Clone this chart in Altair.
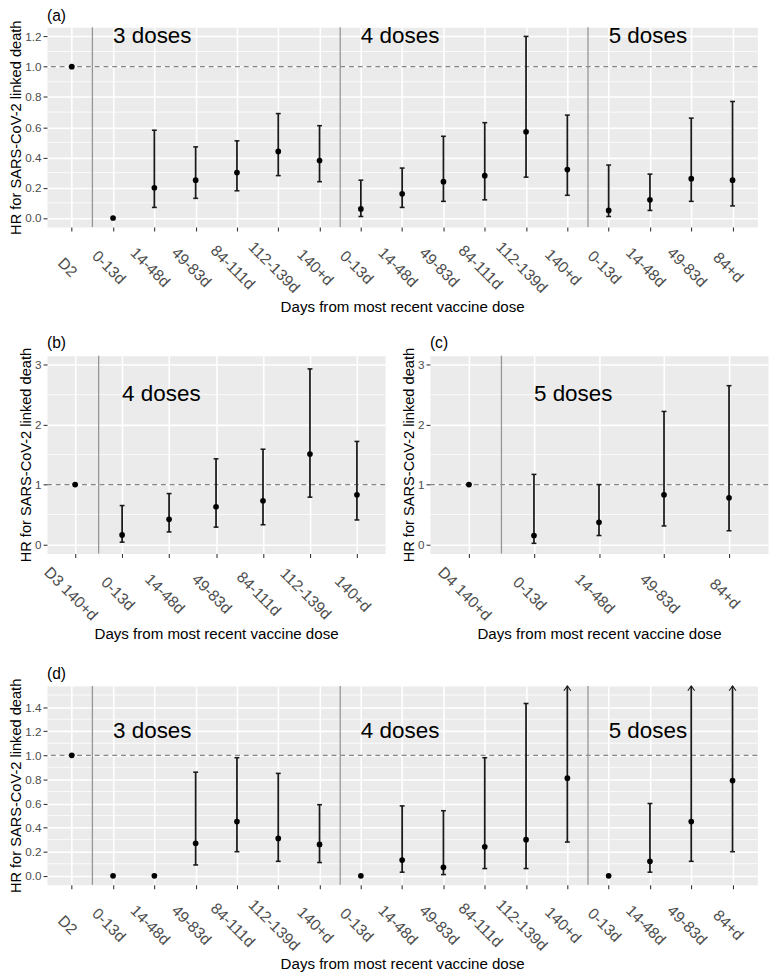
import altair as alt
import pandas as pd

FONT = "Liberation Sans"

# ---------------- data ----------------
full_labels = ["D2", "0-13d", "14-48d", "49-83d", "84-111d", "112-139d", "140+d",
               "0-13d", "14-48d", "49-83d", "84-111d", "112-139d", "140+d",
               "0-13d", "14-48d", "49-83d", "84+d"]

# panel (a)
a_hr = [1.0, 0.0, 0.20, 0.25, 0.30, 0.44, 0.38,
        0.06, 0.16, 0.24, 0.28, 0.57, 0.32,
        0.05, 0.12, 0.26, 0.25]
a_lo = [1.0, None, 0.07, 0.13, 0.18, 0.28, 0.24,
        0.01, 0.07, 0.11, 0.12, 0.27, 0.15,
        0.01, 0.05, 0.11, 0.08]
a_hi = [1.0, None, 0.58, 0.47, 0.51, 0.69, 0.61,
        0.25, 0.33, 0.54, 0.63, 1.20, 0.68,
        0.35, 0.29, 0.66, 0.77]
a_open = [False] * 17

# panel (b)
b_labels = ["D3 140+d", "0-13d", "14-48d", "49-83d", "84-111d", "112-139d", "140+d"]
b_hr = [1.0, 0.16, 0.42, 0.63, 0.73, 1.51, 0.83]
b_lo = [1.0, 0.04, 0.21, 0.29, 0.33, 0.79, 0.41]
b_hi = [1.0, 0.65, 0.85, 1.43, 1.59, 2.93, 1.72]
b_open = [False] * 7

# panel (c)
c_labels = ["D4 140+d", "0-13d", "14-48d", "49-83d", "84+d"]
c_hr = [1.0, 0.15, 0.37, 0.83, 0.78]
c_lo = [1.0, 0.02, 0.15, 0.31, 0.23]
c_hi = [1.0, 1.17, 1.00, 2.22, 2.65]
c_open = [False] * 5

# panel (d)  (None = no interval shown; open = upper limit beyond the axis)
d_hr = [1.0, 0.0, 0.0, 0.27, 0.45, 0.31, 0.26,
        0.0, 0.13, 0.07, 0.24, 0.30, 0.81,
        0.0, 0.12, 0.45, 0.79]
d_lo = [1.0, None, None, 0.09, 0.20, 0.12, 0.11,
        None, 0.03, 0.01, 0.06, 0.06, 0.28,
        None, 0.03, 0.12, 0.20]
d_hi = [1.0, None, None, 0.86, 0.98, 0.85, 0.59,
        None, 0.58, 0.54, 0.98, 1.43, None,
        None, 0.60, None, None]
d_open = [False, False, False, False, False, False, False,
          False, False, False, False, False, True,
          False, False, True, True]

full_groups = [("3 doses", 2), ("4 doses", 8), ("5 doses", 14)]
full_seps = [1.5, 7.5, 13.5]
b_groups = [("4 doses", 2)]
c_groups = [("5 doses", 2)]
single_seps = [1.5]

ref_value = [1.0]

XTITLE = "Days from most recent vaccine dose"
YTITLE = "HR for SARS-CoV-2 linked death"


def panel(tag, labels, hr, lo, hi, is_open, seps, groups, text_y,
          ydom, yticks, yminor, yfmt, w, h):
    n = len(labels)
    idx = list(range(1, n + 1))
    df = pd.DataFrame({"x": idx, "hr": hr, "lo": lo, "hi": hi, "open": is_open})
    ymax = ydom[1]
    df["hi_draw"] = [ymax if o else v for o, v in zip(is_open, hi)]
    bars = df[df["lo"].notna()].copy()
    caps = pd.concat([
        pd.DataFrame({"x": bars["x"], "v": bars["lo"]}),
        pd.DataFrame({"x": bars["x"][bars["hi"].notna()], "v": bars["hi"][bars["hi"].notna()]}),
    ])
    arrows = df[df["open"]].copy()
    arrows["top"] = ymax

    xs = alt.Scale(domain=[0.4, n + 0.6], nice=False, zero=False)
    ys = alt.Scale(domain=ydom, nice=False, zero=False)
    lab_js = "[" + ",".join("'%s'" % l for l in labels) + "]"
    xaxis = alt.Axis(values=idx, labelExpr=lab_js + "[datum.value-1]", title=XTITLE,
                     grid=True, gridColor="white", gridWidth=1.6,
                     domain=False, tickColor="#333333", tickSize=4, tickWidth=1.1,
                     labelAngle=45, labelAlign="center", labelBaseline="middle",
                     labelPadding=37, labelOffset=-5, labelFontSize=16,
                     labelColor="#4D4D4D", labelOverlap=False, labelFlush=False,
                     titleFontSize=15.5, titleFontWeight="normal", titleColor="black",
                     titlePadding=4)
    yaxis = alt.Axis(values=yticks, format=yfmt, title=YTITLE,
                     grid=True, gridColor="white", gridWidth=1.6,
                     domain=False, tickColor="#333333", tickSize=4, tickWidth=1.1,
                     labelFontSize=12, labelColor="#4D4D4D", labelPadding=2,
                     titleFontSize=15, titleFontWeight="normal", titleColor="black",
                     titlePadding=1)

    def X(f="x"):
        return alt.X(f + ":Q", scale=xs, axis=xaxis)

    def Y(f):
        return alt.Y(f + ":Q", scale=ys, axis=yaxis)

    minor = alt.Chart(pd.DataFrame({"m": yminor})).mark_rule(
        color="white", strokeWidth=0.8).encode(y=Y("m"))
    ref = alt.Chart(pd.DataFrame({"r": ref_value})).mark_rule(
        color="#858585", strokeDash=[5, 4], strokeWidth=1.2).encode(y=Y("r"))
    sep = alt.Chart(pd.DataFrame({"s": seps})).mark_rule(
        color="#959595", strokeWidth=1.3).encode(x=X("s"))
    err = alt.Chart(bars).mark_rule(color="#1A1A1A", strokeWidth=1.8).encode(
        x=X(), y=Y("lo"), y2="hi_draw:Q")
    cap = alt.Chart(caps).mark_tick(color="#1A1A1A", orient="horizontal", size=5,
                                     thickness=1.6, opacity=1).encode(x=X(), y=Y("v"))
    layers = [minor, ref, sep, err, cap]
    if len(arrows):
        arr = alt.Chart(arrows).mark_point(shape="M-1,1.4L0,0L1,1.4", size=49, filled=False,
                                           color="#1A1A1A", strokeWidth=1.1, opacity=1).encode(
            x=X(), y=Y("top"))
        layers.append(arr)
    pts = alt.Chart(df).mark_circle(color="black", size=34, opacity=1).encode(x=X(), y=Y("hr"))
    gdf = pd.DataFrame({"t": [g[0] for g in groups], "gx": [g[1] for g in groups],
                        "gy": [text_y] * len(groups)})
    txt = alt.Chart(gdf).mark_text(align="left", baseline="middle", fontSize=23,
                                   font=FONT, color="black").encode(
        x=X("gx"), y=Y("gy"), text="t:N")
    layers += [pts, txt]
    return alt.layer(*layers).properties(
        width=w, height=h,
        title=alt.Title(tag, anchor="start", frame="group", fontSize=16,
                        fontWeight="normal", color="black", offset=-4, font=FONT))


pa = panel("(a)", full_labels, a_hr, a_lo, a_hi, a_open, full_seps, full_groups, 1.2,
           [-0.06, 1.26], [0, 0.2, 0.4, 0.6, 0.8, 1.0, 1.2],
           [0.1, 0.3, 0.5, 0.7, 0.9, 1.1], ".1f", 729, 205)
pb = panel("(b)", b_labels, b_hr, b_lo, b_hi, b_open, single_seps, b_groups, 2.5,
           [-0.15, 3.15], [0, 1, 2, 3], [0.5, 1.5, 2.5], "d", 347, 203)
pc = panel("(c)", c_labels, c_hr, c_lo, c_hi, c_open, single_seps, c_groups, 2.5,
           [-0.15, 3.15], [0, 1, 2, 3], [0.5, 1.5, 2.5], "d", 347, 203)
pd_ = panel("(d)", full_labels, d_hr, d_lo, d_hi, d_open, full_seps, full_groups, 1.2,
            [-0.075, 1.575], [0, 0.2, 0.4, 0.6, 0.8, 1.0, 1.2, 1.4],
            [0.1, 0.3, 0.5, 0.7, 0.9, 1.1, 1.3, 1.5], ".1f", 729, 204)

top = alt.vconcat(pa, alt.hconcat(pb, pc, spacing=14), spacing=19)
chart = alt.vconcat(top, pd_, spacing=23)
chart = chart.properties(padding={"left": 0, "top": -14, "right": 0, "bottom": 0})
chart = chart.configure(font=FONT).configure_view(fill="#EBEBEB", stroke="transparent")

chart.save("out.html", embed_options={"renderer": "svg", "actions": False})
